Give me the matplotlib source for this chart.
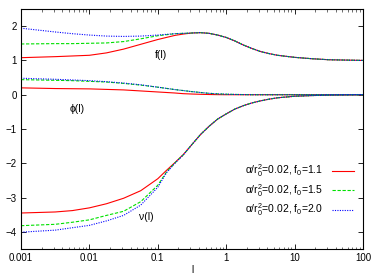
import numpy as np
import matplotlib
matplotlib.use("Agg")
import matplotlib.pyplot as plt
from matplotlib.ticker import FixedLocator, FixedFormatter, LogLocator, NullFormatter

plt.rcParams['font.family'] = ['Liberation Sans', 'DejaVu Sans']
plt.rcParams['mathtext.fontset'] = 'custom'
plt.rcParams['mathtext.rm'] = 'Liberation Sans'
plt.rcParams['mathtext.it'] = 'Liberation Sans'

# sample positions (log10 of l)
logl = [-3, -2.5, -2.25, -2, -1.75, -1.5, -1.25, -1, -0.875, -0.75, -0.625, -0.5,
        -0.375, -0.25, -0.125, 0, 0.125, 0.25, 0.375, 0.5, 0.625, 0.75, 1, 1.25, 1.5, 2]

f_11 = [1.08, 1.11, 1.13, 1.15, 1.22, 1.33, 1.47, 1.61, 1.67, 1.73, 1.77, 1.80,
        1.81, 1.79, 1.74, 1.67, 1.57, 1.45, 1.35, 1.26, 1.20, 1.15, 1.09, 1.05, 1.02, 1.00]
f_15 = [1.48, 1.49, 1.49, 1.50, 1.51, 1.55, 1.63, 1.72, 1.75, 1.78, 1.79, 1.80,
        1.81, 1.79, 1.74, 1.67, 1.57, 1.45, 1.35, 1.26, 1.20, 1.15, 1.09, 1.05, 1.02, 1.00]
f_20 = [1.94, 1.83, 1.78, 1.74, 1.71, 1.70, 1.71, 1.74, 1.76, 1.78, 1.79, 1.80,
        1.81, 1.79, 1.74, 1.67, 1.57, 1.45, 1.35, 1.26, 1.20, 1.15, 1.09, 1.05, 1.02, 1.00]

phi_11 = [0.20, 0.18, 0.175, 0.17, 0.155, 0.14, 0.11, 0.08, 0.065, 0.05, 0.03, 0.02,
          0.012, 0.006, 0.002, 0.0, 0.0, 0.0, 0.0, 0.0, 0.0, 0.0, 0.0, 0.0, 0.0, 0.0]
phi_15 = [0.44, 0.42, 0.41, 0.39, 0.37, 0.33, 0.28, 0.22, 0.185, 0.15, 0.12, 0.09,
          0.065, 0.04, 0.025, 0.015, 0.008, 0.004, 0.0, 0.0, 0.0, 0.0, 0.0, 0.0, 0.0, 0.0]
phi_20 = [0.48, 0.45, 0.43, 0.41, 0.38, 0.34, 0.29, 0.22, 0.185, 0.15, 0.12, 0.09,
          0.065, 0.04, 0.025, 0.015, 0.008, 0.004, 0.0, 0.0, 0.0, 0.0, 0.0, 0.0, 0.0, 0.0]

v_11 = [-3.45, -3.42, -3.38, -3.30, -3.18, -3.02, -2.80, -2.45, -2.21, -1.98, -1.74, -1.45,
        -1.16, -0.92, -0.71, -0.56, -0.42, -0.32, -0.24, -0.18, -0.13, -0.09, -0.045, -0.025, -0.012, 0.0]
v_15 = [-3.82, -3.78, -3.72, -3.65, -3.52, -3.40, -3.12, -2.64, -2.26, -1.99, -1.75, -1.45,
        -1.16, -0.92, -0.71, -0.56, -0.42, -0.32, -0.24, -0.18, -0.13, -0.09, -0.045, -0.025, -0.012, 0.0]
v_20 = [-4.01, -3.95, -3.88, -3.81, -3.68, -3.52, -3.22, -2.70, -2.28, -2.00, -1.75, -1.45,
        -1.16, -0.92, -0.71, -0.56, -0.42, -0.32, -0.24, -0.18, -0.13, -0.09, -0.045, -0.025, -0.012, 0.0]

labels = [r'$\alpha$/r$_0^2$=0.02, f$_0$=1.1',
          r'$\alpha$/r$_0^2$=0.02, f$_0$=1.5',
          r'$\alpha$/r$_0^2$=0.02, f$_0$=2.0']
xticks = [0.001, 0.01, 0.1, 1, 10, 100]
xticklabels = ['0.001', '0.01', '0.1', '1', '10', '100']
yticks = [-4, -3, -2, -1, 0, 1, 2]

l = 10.0 ** np.array(logl)

fig = plt.figure(figsize=(3.76, 2.76), dpi=100)
ax = fig.add_axes([21/376, 1-249/276, 342/376, 240/276])

styles = [dict(color='#ff0000', ls='-'),
          dict(color='#00e000', ls=(0, (3, 1.5))),
          dict(color='#0000ff', ls=(0, (1, 1.2)))]
series = [(f_11, phi_11, v_11), (f_15, phi_15, v_15), (f_20, phi_20, v_20)]
for (fv, pv, vv), st, lab in zip(series, styles, labels):
    ax.plot(l, fv, lw=0.8, label=lab, **st)
    ax.plot(l, pv, lw=0.8, **st)
    ax.plot(l, vv, lw=0.8, **st)

ax.set_xscale('log')
ax.set_xlim(0.001, 100)
ax.set_ylim(-4.5, 2.5)
ax.xaxis.set_major_locator(FixedLocator(xticks))
ax.xaxis.set_major_formatter(FixedFormatter(xticklabels))
ax.xaxis.set_minor_locator(LogLocator(base=10, subs=np.arange(2, 10)))
ax.xaxis.set_minor_formatter(NullFormatter())
ax.set_yticks(yticks)
ax.tick_params(which='both', direction='in', top=True, right=True, labelsize=7, pad=3)
ax.tick_params(which='major', length=3.5, width=0.6)
ax.tick_params(which='minor', length=1.8, width=0.4)
for s in ax.spines.values():
    s.set_linewidth(0.8)

ax.set_xlabel('l', fontsize=7, labelpad=1)

ax.text(0.11, 1.17, 'f(l)', fontsize=7.5, ha='center', va='center')
ax.text(0.0066, -0.43, 'ϕ(l)', fontsize=7.5, ha='center', va='center')
ax.text(0.069, -3.58, 'ν(l)', fontsize=7.5, ha='center', va='center')

ax.legend(loc='upper right', bbox_to_anchor=(0.975, 0.36), frameon=False,
          markerfirst=False, fontsize=7.5, handlelength=2.2, handletextpad=0.8,
          labelspacing=0.25, borderpad=0, borderaxespad=0)

fig.savefig('out.png', dpi=100)
